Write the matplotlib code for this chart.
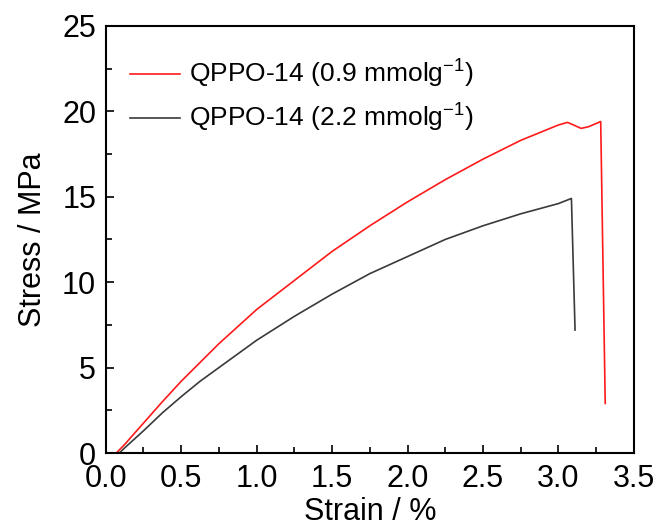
import matplotlib
matplotlib.use('Agg')
import matplotlib.pyplot as plt
from matplotlib.ticker import MultipleLocator, FormatStrFormatter

plt.rcParams['font.family'] = ['Liberation Sans', 'DejaVu Sans']
plt.rcParams['mathtext.default'] = 'regular'

# stress-strain readings
strain_09 = [0.07, 0.125, 0.25, 0.375, 0.5, 0.625, 0.75, 0.875, 1.0, 1.125, 1.25,
             1.375, 1.5, 1.625, 1.75, 1.875, 2.0, 2.125, 2.25, 2.375, 2.5, 2.625,
             2.75, 2.875, 3.0, 3.06, 3.1, 3.15, 3.2, 3.28, 3.31]
stress_09 = [0.0, 0.5, 1.75, 3.0, 4.2, 5.3, 6.4, 7.4, 8.4, 9.25, 10.1,
             10.95, 11.8, 12.55, 13.3, 14.0, 14.7, 15.35, 16.0, 16.6, 17.2, 17.75,
             18.3, 18.75, 19.2, 19.35, 19.2, 19.0, 19.1, 19.4, 2.9]

strain_22 = [0.09, 0.125, 0.25, 0.375, 0.5, 0.625, 0.75, 0.875, 1.0, 1.125, 1.25,
             1.375, 1.5, 1.625, 1.75, 1.875, 2.0, 2.125, 2.25, 2.375, 2.5, 2.625,
             2.75, 2.875, 3.0, 3.086, 3.11]
stress_22 = [0.0, 0.3, 1.3, 2.35, 3.3, 4.2, 5.0, 5.8, 6.6, 7.3, 8.0,
             8.65, 9.3, 9.9, 10.5, 11.0, 11.5, 12.0, 12.5, 12.9, 13.3, 13.65,
             14.0, 14.3, 14.6, 14.9, 7.2]

labels = ['QPPO-14 (0.9 mmolg$^{-1}$)', 'QPPO-14 (2.2 mmolg$^{-1}$)']

fig = plt.figure(figsize=(6.61, 5.28), dpi=100)
ax = fig.add_axes([0.160, 0.142, 0.799, 0.809])

ax.plot(strain_09, stress_09, color='#ff1a1a', lw=1.2, label=labels[0])
ax.plot(strain_22, stress_22, color='#3a3a3a', lw=1.2, label=labels[1])

ax.set_xlim(0, 3.5)
ax.set_ylim(0, 25)
ax.xaxis.set_major_locator(MultipleLocator(0.5))
ax.xaxis.set_minor_locator(MultipleLocator(0.25))
ax.yaxis.set_major_locator(MultipleLocator(5))
ax.yaxis.set_minor_locator(MultipleLocator(2.5))
ax.xaxis.set_major_formatter(FormatStrFormatter('%.1f'))

ax.tick_params(which='both', direction='in', top=False, right=False, labelsize=22)
ax.tick_params(which='major', length=6, width=1.2)
ax.tick_params(which='minor', length=4, width=1.2)
ax.tick_params(axis='x', pad=8)
ax.tick_params(axis='y', pad=7)
for s in ax.spines.values():
    s.set_linewidth(1.5)

ax.set_xlabel('Strain / %', fontsize=22, labelpad=2)
ax.set_ylabel('Stress / MPa', fontsize=22, labelpad=10)

ax.legend(loc='upper left', bbox_to_anchor=(0.0, 0.98), frameon=False, fontsize=19,
          handlelength=1.9, handletextpad=0.35, labelspacing=0.45)

fig.savefig('out.png', dpi=100)
